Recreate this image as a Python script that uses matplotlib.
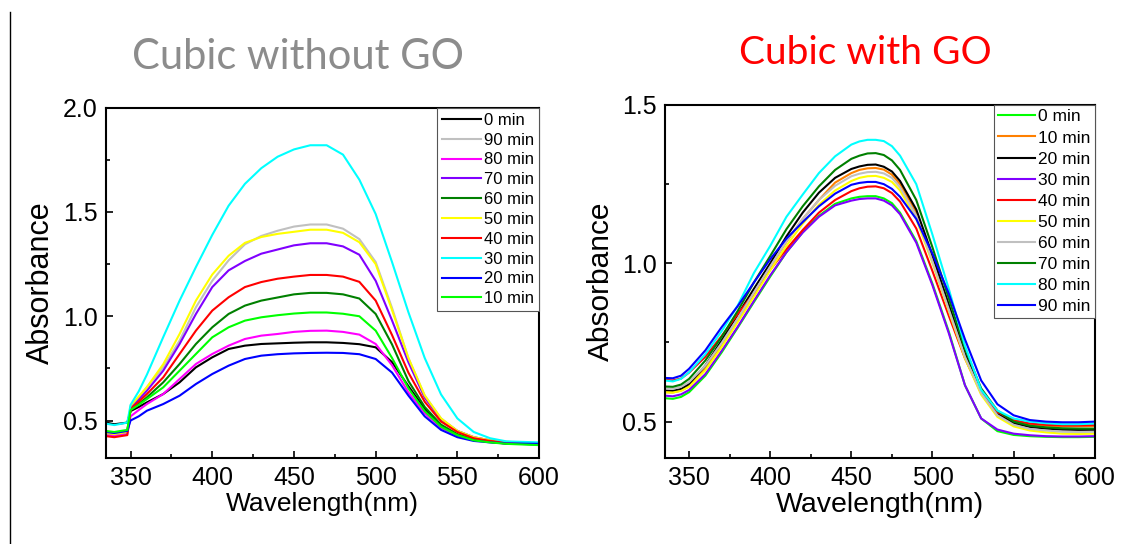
import numpy as np
import matplotlib
matplotlib.use("Agg")
from matplotlib import pyplot as plt
from matplotlib.lines import Line2D
from matplotlib.ticker import MultipleLocator

plt.rcParams['font.family'] = ['Liberation Sans', 'DejaVu Sans']

# ---- left panel: Cubic without GO ----
wl_left = [335, 340, 348, 350, 355, 360, 370, 380, 390, 400, 410, 420, 430, 440, 450,
           460, 470, 480, 490, 500, 510, 520, 530, 540, 550, 560, 570, 580, 600]
labels_left = ['0 min', '90 min', '80 min', '70 min', '60 min',
               '50 min', '40 min', '30 min', '20 min', '10 min']
colors_left = ['#000000', '#c0c0c0', '#ff00ff', '#8000ff', '#008000',
               '#ffff00', '#ff0000', '#00ffff', '#0000ff', '#00ff00']

abs_left_0 = [.49, .482, .49, .545, .565, .587, .627, .683, .755, .803, .843, .859, .867, .870, .873,
              .875, .875, .872, .866, .851, .78, .665, .555, .47, .43, .408, .397, .39, .386]
abs_left_90 = [.44, .435, .445, .56, .61, .66, .755, .883, 1.043, 1.17, 1.268, 1.345, 1.385, 1.41, 1.43,
               1.44, 1.44, 1.42, 1.37, 1.26, 1.04, .80, .62, .51, .45, .42, .405, .398, .39]
abs_left_80 = [.43, .425, .435, .52, .55, .579, .627, .699, .771, .819, .859, .891, .907, .915, .925,
               .93, .931, .925, .912, .867, .765, .635, .535, .465, .43, .408, .397, .39, .386]
abs_left_70 = [.44, .435, .445, .56, .60, .643, .739, .867, 1.011, 1.14, 1.22, 1.265, 1.30, 1.32, 1.34,
               1.35, 1.35, 1.335, 1.295, 1.17, .98, .78, .61, .505, .45, .42, .405, .395, .388]
abs_left_60 = [.445, .44, .45, .55, .58, .611, .683, .771, .867, .947, 1.011, 1.051, 1.075, 1.09, 1.105,
               1.112, 1.112, 1.105, 1.085, 1.011, .865, .69, .565, .48, .435, .41, .398, .39, .385]
abs_left_50 = [.44, .435, .445, .57, .615, .66, .77, .915, 1.075, 1.20, 1.29, 1.352, 1.38, 1.395, 1.405,
               1.415, 1.415, 1.40, 1.355, 1.25, 1.03, .80, .62, .51, .45, .42, .405, .398, .39]
abs_left_40 = [.425, .42, .43, .555, .59, .627, .707, .819, .931, 1.027, 1.091, 1.14, 1.164, 1.18, 1.19,
               1.198, 1.198, 1.19, 1.165, 1.075, .91, .73, .59, .495, .445, .415, .402, .395, .388]
abs_left_30 = [.485, .478, .49, .575, .64, .72, .90, 1.075, 1.236, 1.39, 1.53, 1.635, 1.71, 1.765, 1.80,
               1.82, 1.82, 1.775, 1.655, 1.49, 1.26, 1.02, .80, .625, .51, .445, .415, .40, .395]
abs_left_20 = [.445, .44, .45, .50, .52, .547, .579, .619, .675, .723, .763, .795, .811, .818, .822,
               .824, .825, .824, .818, .795, .73, .62, .52, .455, .42, .402, .395, .39, .388]
abs_left_10 = [.45, .445, .455, .55, .575, .603, .659, .739, .819, .899, .947, .979, .995, 1.005, 1.013,
               1.018, 1.018, 1.012, 1.0, .931, .80, .655, .545, .47, .43, .405, .395, .388, .382]
series_left = [abs_left_0, abs_left_90, abs_left_80, abs_left_70, abs_left_60,
               abs_left_50, abs_left_40, abs_left_30, abs_left_20, abs_left_10]

# ---- right panel: Cubic with GO ----
wl_right = [335, 340, 345, 350, 360, 370, 380, 390, 400, 410, 420, 430, 440, 450, 455, 460,
            465, 470, 475, 480, 490, 500, 510, 520, 530, 540, 550, 560, 570, 580, 590, 600]
labels_right = ['0 min', '10 min', '20 min', '30 min', '40 min',
                '50 min', '60 min', '70 min', '80 min', '90 min']
colors_right = ['#00ff00', '#ff8000', '#000000', '#8000ff', '#ff0000',
                '#ffff00', '#c0c0c0', '#008000', '#00ffff', '#0000ff']

abs_right_0 = [.574, .572, .578, .593, .645, .718, .797, .878, .958, 1.035, 1.098, 1.15, 1.188, 1.205, 1.21, 1.212,
               1.212, 1.205, 1.19, 1.16, 1.07, .935, .785, .615, .51, .47, .458, .454, .452, .451, .451, .452]
abs_right_10 = [.593, .592, .598, .612, .667, .74, .818, .905, .988, 1.068, 1.14, 1.20, 1.255, 1.285, 1.295, 1.30,
                1.301, 1.296, 1.28, 1.25, 1.16, 1.015, .865, .715, .60, .53, .50, .49, .487, .485, .485, .486]
abs_right_20 = [.598, .597, .603, .619, .677, .756, .838, .92, 1.0, 1.085, 1.16, 1.223, 1.27, 1.298, 1.306, 1.311,
                1.312, 1.305, 1.29, 1.26, 1.17, 1.025, .87, .715, .595, .525, .495, .483, .478, .475, .474, .474]
abs_right_30 = [.582, .58, .586, .60, .65, .723, .80, .882, .962, 1.035, 1.097, 1.147, 1.183, 1.198, 1.203, 1.205,
                1.205, 1.198, 1.183, 1.155, 1.065, .93, .78, .615, .51, .475, .462, .457, .454, .453, .453, .454]
abs_right_40 = [.632, .63, .636, .655, .705, .77, .84, .905, .98, 1.045, 1.105, 1.16, 1.20, 1.228, 1.237, 1.242,
                1.243, 1.237, 1.222, 1.195, 1.11, .975, .835, .70, .59, .53, .505, .494, .49, .488, .488, .489]
abs_right_50 = [.593, .592, .597, .61, .662, .735, .815, .895, .978, 1.055, 1.125, 1.185, 1.23, 1.26, 1.27, 1.275,
                1.276, 1.27, 1.257, 1.23, 1.14, 1.0, .85, .70, .585, .515, .485, .472, .466, .462, .461, .462]
abs_right_60 = [.606, .604, .61, .625, .677, .748, .826, .908, .99, 1.07, 1.14, 1.20, 1.245, 1.275, 1.283, 1.288,
                1.289, 1.284, 1.27, 1.24, 1.15, 1.005, .855, .705, .59, .52, .49, .477, .472, .468, .467, .468]
abs_right_70 = [.611, .61, .617, .635, .693, .767, .85, .94, 1.023, 1.108, 1.18, 1.243, 1.295, 1.33, 1.34, 1.347,
                1.348, 1.342, 1.325, 1.295, 1.20, 1.05, .89, .73, .605, .535, .50, .487, .482, .479, .478, .478]
abs_right_80 = [.63, .627, .635, .656, .713, .785, .867, .97, 1.055, 1.147, 1.217, 1.285, 1.338, 1.375, 1.385, 1.39,
                1.39, 1.386, 1.37, 1.34, 1.25, 1.09, .92, .74, .60, .535, .51, .50, .495, .492, .492, .494]
abs_right_90 = [.638, .637, .645, .667, .725, .798, .865, .94, 1.013, 1.078, 1.13, 1.18, 1.22, 1.248, 1.254, 1.257,
                1.257, 1.25, 1.235, 1.21, 1.14, 1.03, .905, .76, .63, .555, .52, .505, .50, .498, .498, .50]
series_right = [abs_right_0, abs_right_10, abs_right_20, abs_right_30, abs_right_40,
                abs_right_50, abs_right_60, abs_right_70, abs_right_80, abs_right_90]


def style_axes(ax, ylim, xlabel_size, ylabel_size):
    ax.set_xlim(335, 600)
    ax.set_ylim(*ylim)
    ax.xaxis.set_major_locator(MultipleLocator(50))
    ax.xaxis.set_minor_locator(MultipleLocator(25))
    ax.yaxis.set_major_locator(MultipleLocator(0.5))
    ax.yaxis.set_minor_locator(MultipleLocator(0.25))
    ax.tick_params(which='both', direction='in', top=False, right=False,
                   width=1.2, labelsize=18, pad=6)
    ax.tick_params(which='major', length=5)
    ax.tick_params(which='minor', length=3)
    for sp in ax.spines.values():
        sp.set_linewidth(1.5)
    ax.set_xlabel('Wavelength(nm)', fontsize=xlabel_size, labelpad=1)
    ax.set_ylabel('Absorbance', fontsize=ylabel_size, labelpad=5)


fig = plt.figure(figsize=(11.21, 5.44), dpi=100)

ax1 = fig.add_axes([0.0946, 0.158, 0.3863, 0.644])
for vals, lab, col in zip(series_left, labels_left, colors_left):
    ax1.plot(wl_left, vals, color=col, lw=1.5, label=lab)
style_axes(ax1, (0.32, 2.0), 19, 22)
leg1 = ax1.legend(loc='upper right', bbox_to_anchor=(1, 1), borderaxespad=0,
                  fontsize=12, handlelength=2.3, handletextpad=0.2,
                  labelspacing=0.29, borderpad=0.3, fancybox=False,
                  framealpha=1, edgecolor='#555555')
leg1.get_frame().set_linewidth(0.8)

ax2 = fig.add_axes([0.593, 0.158, 0.3836, 0.649])
for vals, lab, col in zip(series_right, labels_right, colors_right):
    ax2.plot(wl_right, vals, color=col, lw=1.5, label=lab)
style_axes(ax2, (0.385, 1.5), 20.5, 21.5)
leg2 = ax2.legend(loc='upper right', bbox_to_anchor=(1, 1), borderaxespad=0,
                  fontsize=12.5, handlelength=2.1, handletextpad=0.2,
                  labelspacing=0.34, borderpad=0.25, fancybox=False,
                  framealpha=1, edgecolor='#555555')
leg2.get_frame().set_linewidth(0.8)

# titles
fig.text(298 / 1121, 1 - 57 / 544, 'Cubic without GO', ha='center', va='center',
         fontsize=30, color='#8c8c8c', family=['Lato', 'DejaVu Sans'])
fig.text(865 / 1121, 1 - 53 / 544, 'Cubic with GO', ha='center', va='center',
         fontsize=28, color='#ff0000', family=['Lato', 'DejaVu Sans'])

# thin rule at the left edge
fig.add_artist(Line2D([9.5 / 1121, 9.5 / 1121], [0, 1 - 12 / 544],
                      transform=fig.transFigure, color='black', lw=1))

fig.savefig('out.png', dpi=100)
